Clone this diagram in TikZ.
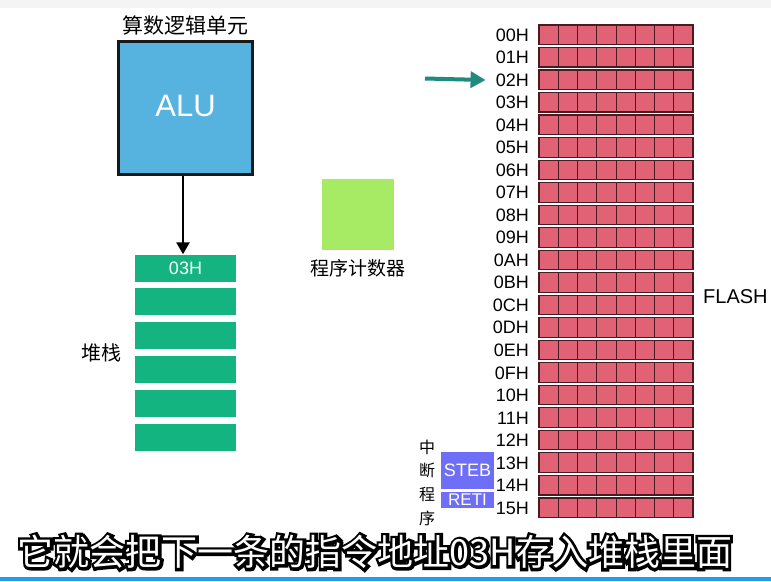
\documentclass[tikz,border=0pt]{standalone}
\usepackage{fontspec}
\setmainfont{Liberation Sans}
\newfontfamily\cjk{Noto Sans CJK SC}
\newfontfamily\cjkthick[FakeBold=16]{Noto Sans CJK SC}
\usetikzlibrary{arrows.meta}
\definecolor{alublue}{HTML}{56B3E0}
\definecolor{stackgreen}{HTML}{13B47F}
\definecolor{pcgreen}{HTML}{A6EB63}
\definecolor{cellred}{HTML}{E06274}
\definecolor{celledge}{HTML}{4A1C22}
\definecolor{tealarr}{HTML}{1F8A7D}
\definecolor{intpurple}{HTML}{6E6EF7}
\definecolor{topgray}{HTML}{F4F4F4}
\definecolor{botblue}{HTML}{1FA0E6}
\tikzset{
  alubox/.style={draw=black!90, line width=3pt, fill=alublue, minimum width=134pt, minimum height=133pt, inner sep=0pt, text=white, font=\fontsize{31}{31}\selectfont},
  stackbox/.style={fill=stackgreen, minimum width=101pt, minimum height=27pt, inner sep=0pt, text=white, font=\fontsize{18}{18}\selectfont},
  pcbox/.style={fill=pcgreen, minimum width=72pt, minimum height=71pt, inner sep=0pt},
  cjklabel/.style={inner sep=0pt, font=\cjk\fontsize{#1}{#1}\selectfont},
  rowlabel/.style={anchor=east, inner sep=0pt, font=\fontsize{18}{18}\selectfont},
  rowbox/.style={draw=celledge, line width=1.2pt, minimum width=154pt, minimum height=19.5pt, inner sep=0pt},
  cell/.style={draw=celledge, line width=1pt, fill=cellred},
  intbox/.style={fill=intpurple, minimum width=53pt, inner sep=0pt, text=white},
  blackarrow/.style={line width=2.5pt, -{Triangle[length=12pt,width=13pt]}},
  tealarrow/.style={draw=tealarr, line width=4pt, -{Triangle[length=15pt,width=16pt]}},
}
\begin{document}
\begin{tikzpicture}[x=1pt,y=-1pt]
\useasboundingbox (0,0) rectangle (771,581);
\fill[white] (0,0) rectangle (771,581);
\fill[topgray] (0,0) rectangle (771,8);
\fill[botblue] (0,577) rectangle (771,581);

% ALU
\node[alubox] (alu) at (185.5,108) {\raisebox{5pt}{ALU}};
\node[cjklabel=21] (alut) at (185,25) {算数逻辑单元};

% stack
\node[stackbox] (s1) at (185.5,268) {03H};
\node[stackbox] (s2) at (185.5,301.8) {};
\node[stackbox] (s3) at (185.5,335.6) {};
\node[stackbox] (s4) at (185.5,369.4) {};
\node[stackbox] (s5) at (185.5,403.2) {};
\node[stackbox] (s6) at (185.5,437) {};
\node[cjklabel=20] (stk) at (101,353) {堆栈};
\draw[blackarrow] ([xshift=-2.5pt]alu.south) -- ([xshift=-2.5pt]s1.north);

% program counter
\node[pcbox] (pc) at (358,214.5) {};
\node[cjklabel=19] (pct) at (358,268) {程序计数器};

% FLASH rows
\foreach \lab [count=\n from 0] in {00H,01H,02H,03H,04H,05H,06H,07H,08H,09H,0AH,0BH,0CH,0DH,0EH,0FH,10H,11H,12H,13H,14H,15H}{
  \pgfmathsetmacro{\top}{25+22.52*\n}
  \foreach \j in {0,...,7}{
    \draw[cell] (539+19.25*\j,\top) rectangle ++(19.25,19.5);
  }
  \node[rowbox] (r\n) at (616,\top+9.75) {};
  \node[rowlabel] (l\n) at (529,\top+10) {\lab};
}
\node[anchor=west, inner sep=0pt, font=\fontsize{20}{20}\selectfont] (flash) at (703,297) {FLASH};

% teal arrow
\coordinate (ta) at (425,78.5);
\draw[tealarrow] (ta) -- ([xshift=-10pt]l2.west);

% interrupt routine
\node[cjklabel=16, align=center, font=\cjk\fontsize{16}{23.7}\selectfont] (zd) at (427,482.5) {中\\断\\程\\序};
\node[intbox, minimum height=37pt, font=\fontsize{18}{18}\selectfont] (steb) at (467.5,470.5) {STEB};
\node[intbox, minimum height=16pt, font=\fontsize{17}{17}\selectfont] (reti) at (467.5,500) {RETI};

% subtitle: thick black text under white text gives the outline
\node[inner sep=0pt, text=black, font=\cjkthick\fontsize{36}{36}\selectfont] (subo) at (375,552) {它就会把下一条的指令地址03H存入堆栈里面};
\node[inner sep=0pt, text=white, font=\cjk\fontsize{36}{36}\selectfont] (sub) at (375,552) {它就会把下一条的指令地址03H存入堆栈里面};
\end{tikzpicture}
\end{document}
